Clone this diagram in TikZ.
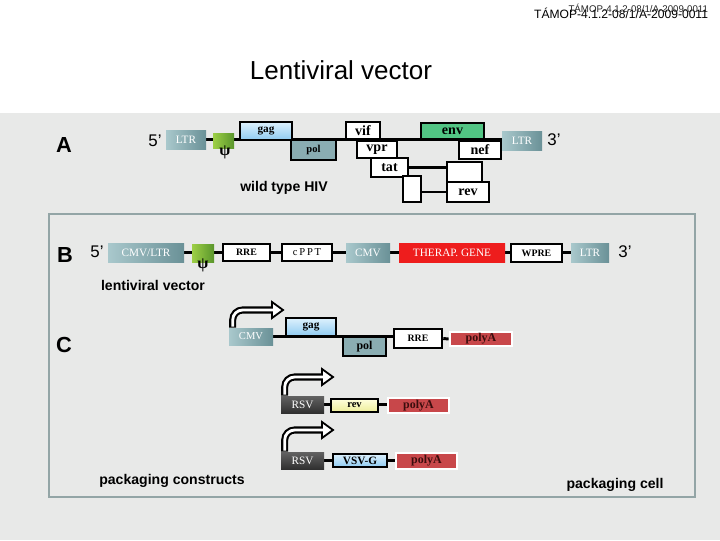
\documentclass[tikz,border=0pt]{standalone}
\usepackage{fontspec}
\setmainfont{Liberation Sans}
\newfontfamily\boxfont{Liberation Serif}
\usetikzlibrary{calc,backgrounds}
\usepackage{xcolor}
\definecolor{bggray}{HTML}{E8E9E8}
\definecolor{frameblue}{HTML}{93A5A6}
\definecolor{ltrlight}{HTML}{A9C8CC}
\definecolor{ltrdark}{HTML}{6A9197}
\definecolor{psilight}{HTML}{9DCF46}
\definecolor{psidark}{HTML}{5A962C}
\definecolor{gaglight}{HTML}{DDF1FD}
\definecolor{gagdark}{HTML}{8FCBF1}
\definecolor{polteal}{HTML}{8AADB2}
\definecolor{envgreen}{HTML}{52C584}
\definecolor{genered}{HTML}{EE1D1D}
\definecolor{polyared}{HTML}{C8474A}
\definecolor{polyatext}{HTML}{3B0D0D}
\definecolor{rsvlight}{HTML}{626262}
\definecolor{rsvdark}{HTML}{303030}
\definecolor{revlight}{HTML}{FFFFDC}
\definecolor{revdark}{HTML}{EDED98}

\begin{document}
\begin{tikzpicture}[x=0.025cm, y=-0.025cm,
  sz/.style 2 args={minimum width=#1*0.025cm, minimum height=#2*0.025cm},
  gline/.style={line width=2.1pt, black},
  blackbox/.style={draw=black, line width=1.8pt, fill=white, inner sep=0pt,
    font=\boxfont\bfseries\fontsize{7}{7}\selectfont},
  genebig/.style={font=\boxfont\bfseries\fontsize{10}{10}\selectfont},
  ltrbox/.style={left color=ltrlight, right color=ltrdark, inner sep=0pt, text=white,
    font=\boxfont\fontsize{8}{8}\selectfont},
  psibox/.style={left color=psilight, right color=psidark, inner sep=0pt},
  polyabox/.style={fill=polyared, draw=white, line width=2pt, inner sep=0pt, text=polyatext,
    font=\boxfont\bfseries\fontsize{8.5}{8.5}\selectfont},
  rsvbox/.style={top color=rsvlight, bottom color=rsvdark, inner sep=0pt, text=white,
    font=\boxfont\fontsize{8}{8}\selectfont},
  caption/.style={font=\bfseries\fontsize{10}{12}\selectfont},
  letter/.style={font=\bfseries\fontsize{15.5}{16}\selectfont},
  prime/.style={font=\fontsize{12}{14}\selectfont},
  psisign/.style={font=\boxfont\bfseries\fontsize{11.5}{11.5}\selectfont, inner sep=0pt},
  arrowout/.style={line width=5pt, rounded corners=7pt}]

  \useasboundingbox (0,0) rectangle (720,540);

  % Background and frame of the packaging cell
  \begin{scope}[on background layer]
    \fill[white] (0,0) rectangle (720,540);
    \fill[bggray] (0,113) rectangle (720,540);
    \draw[frameblue, line width=1.8pt] (49,214) rectangle (695,497);
  \end{scope}

  % Header and title
  \node[anchor=east, font=\fontsize{8.6}{9}\selectfont] (hdr) at (713,13) {TÁMOP-4.1.2-08/1/A-2009-0011};
  \node[anchor=east, font=\fontsize{6.9}{7}\selectfont, black!85] (hdrsmall) at (713,8) {TÁMOP-4.1.2-08/1/A-2009-0011};
  \node[font=\fontsize{18.5}{20}\selectfont] (title) at (341,70) {Lentiviral vector};

  % A: wild type HIV
  \node[letter] (labA) at (64,145) {A};
  \node[prime] (fiveA) at (155,141) {5’};
  \node[ltrbox, sz={40}{19}] (ltrA) at (186,139.5) {LTR};
  \node[psibox, sz={21}{15}] (psiA) at (223.5,140.5) {};
  \node[psisign] (psiAsign) at (225,152) {ψ};
  \node[blackbox, top color=gaglight, bottom color=gagdark, font=\boxfont\bfseries\fontsize{8}{8}\selectfont,
    sz={52}{18}] (gagA) at (266,131) {gag};
  \node[blackbox, fill=polteal, font=\boxfont\bfseries\fontsize{7.5}{7.5}\selectfont,
    sz={45}{20}] (polA) at (313.5,150) {pol};
  \node[blackbox, genebig, sz={34}{17}] (vifA) at (363,130.5) {vif};
  \node[blackbox, genebig, sz={40}{17}] (vprA) at (377,149.5) {vpr};
  \node[blackbox, genebig, sz={37}{19}] (tatA) at (389.5,167.5) {tat};
  \node[blackbox, sz={18}{26}] (smallA) at (412,189) {};
  \node[blackbox, genebig, fill=envgreen, sz={63}{16}] (envA) at (452.5,131) {env};
  \node[blackbox, genebig, sz={42}{18}] (nefA) at (480,150) {nef};
  \node[blackbox, sz={35}{20}] (blankA) at (464.5,172) {};
  \node[blackbox, genebig, sz={42}{20}] (revA) at (468,192) {rev};
  \node[ltrbox, sz={40}{19}] (ltrAR) at (522,140.5) {LTR};
  \node[prime] (threeA) at (554,140) {3’};
  \node[caption] (wildA) at (284,188) {wild type HIV};

  % B: lentiviral vector
  \node[letter] (labB) at (65,255) {B};
  \node[prime] (fiveB) at (97,252) {5’};
  \node[ltrbox, sz={76}{19}] (cmvltr) at (146,252.5) {CMV/LTR};
  \node[psibox, sz={22}{18}] (psiB) at (203,253) {};
  \node[psisign] (psiBsign) at (203,265) {ψ};
  \node[blackbox, sz={47}{17}] (rreB) at (246.5,252.5) {RRE};
  \node[blackbox, font=\boxfont\fontsize{7.5}{7.5}\selectfont, sz={50}{17}] (cppt) at (307,252.5) {c\,P\,P\,T};
  \node[ltrbox, sz={44}{19}] (cmvB) at (368,252.5) {CMV};
  \node[ltrbox, left color=genered, right color=genered, sz={106}{19}] (therap) at (452,252.5) {THERAP. GENE};
  \node[blackbox, sz={51}{18}] (wpre) at (536.5,253) {WPRE};
  \node[ltrbox, sz={38}{19}] (ltrB) at (590,252.5) {LTR};
  \node[prime] (threeB) at (625,252) {3’};
  \node[caption] (lentiB) at (153,285) {lentiviral vector};

  % C: packaging constructs
  \node[letter] (labC) at (64,345) {C};
  \node[ltrbox, font=\boxfont\fontsize{7.5}{7.5}\selectfont, sz={44}{17}] (cmvC) at (251,336.5) {CMV};
  \node[blackbox, top color=gaglight, bottom color=gagdark, font=\boxfont\bfseries\fontsize{8}{8}\selectfont,
    sz={50}{18}] (gagC) at (311,327) {gag};
  \node[blackbox, fill=polteal, font=\boxfont\bfseries\fontsize{8.5}{8.5}\selectfont,
    sz={43}{19}] (polC) at (364.5,346.5) {pol};
  \node[blackbox, sz={48}{19}] (rreC) at (418,338.5) {RRE};
  \node[polyabox, sz={62}{14}] (polyC) at (481,339) {polyA};

  \node[rsvbox, sz={43}{17}] (rsvA) at (302.5,404.5) {RSV};
  \node[blackbox, line width=1.6pt, top color=revlight, bottom color=revdark,
    font=\boxfont\bfseries\fontsize{7.5}{7.5}\selectfont, sz={47}{13}] (revC) at (354.5,405.5) {rev};
  \node[polyabox, sz={61}{15}] (polyRa) at (418.5,405.5) {polyA};

  \node[rsvbox, sz={43}{17}] (rsvB) at (302.5,460.5) {RSV};
  \node[blackbox, line width=1.6pt, top color=gaglight, bottom color=gagdark,
    font=\boxfont\bfseries\fontsize{8}{8}\selectfont, sz={54}{13}] (vsvg) at (360,460.5) {VSV-G};
  \node[polyabox, sz={61}{16}] (polyRb) at (426.5,461) {polyA};

  \node[caption] (packcon) at (172,481) {packaging constructs};
  \node[caption] (packcell) at (615,485) {packaging cell};

  % Genome lines behind the boxes
  \begin{scope}[on background layer]
    \draw[gline] (ltrA.east) -- (ltrAR.west |- ltrA.east);
    \draw[gline] (tatA.east) -- (blankA.west |- tatA.east);
    \draw[gline] (smallA.east |- revA.west) -- (revA.west);
    \draw[gline] (cmvltr.east) -- (ltrB.west |- cmvltr.east);
    \draw[gline] (cmvC.east) -- (rreC.west |- cmvC.east);
    \draw[gline] (rreC.east) -- (polyC.west);
    \draw[gline] (rsvA.east) -- (polyRa.west |- rsvA.east);
    \draw[gline] (rsvB.east) -- (polyRb.west |- rsvB.east);
  \end{scope}

  % Promoter arrows
  \coordinate (tipC) at (272,310);
  \coordinate (tipRa) at (322,377);
  \coordinate (tipRb) at (322,430);
  \foreach \b/\t in {cmvC/tipC, rsvA/tipRa, rsvB/tipRb} {
    \draw[arrowout] ($(\b.north west)+(4,0)$) |- (\t);
    \filldraw[fill=white, draw=black, line width=1.3pt]
      ($(\t)+(0,-8)$) -- ($(\t)+(11,0)$) -- ($(\t)+(0,8)$) -- cycle;
    \draw[white, line width=2pt, rounded corners=7pt] ($(\b.north west)+(4,-1)$) |- ($(\t)+(2,0)$);
  }

\end{tikzpicture}
\end{document}
